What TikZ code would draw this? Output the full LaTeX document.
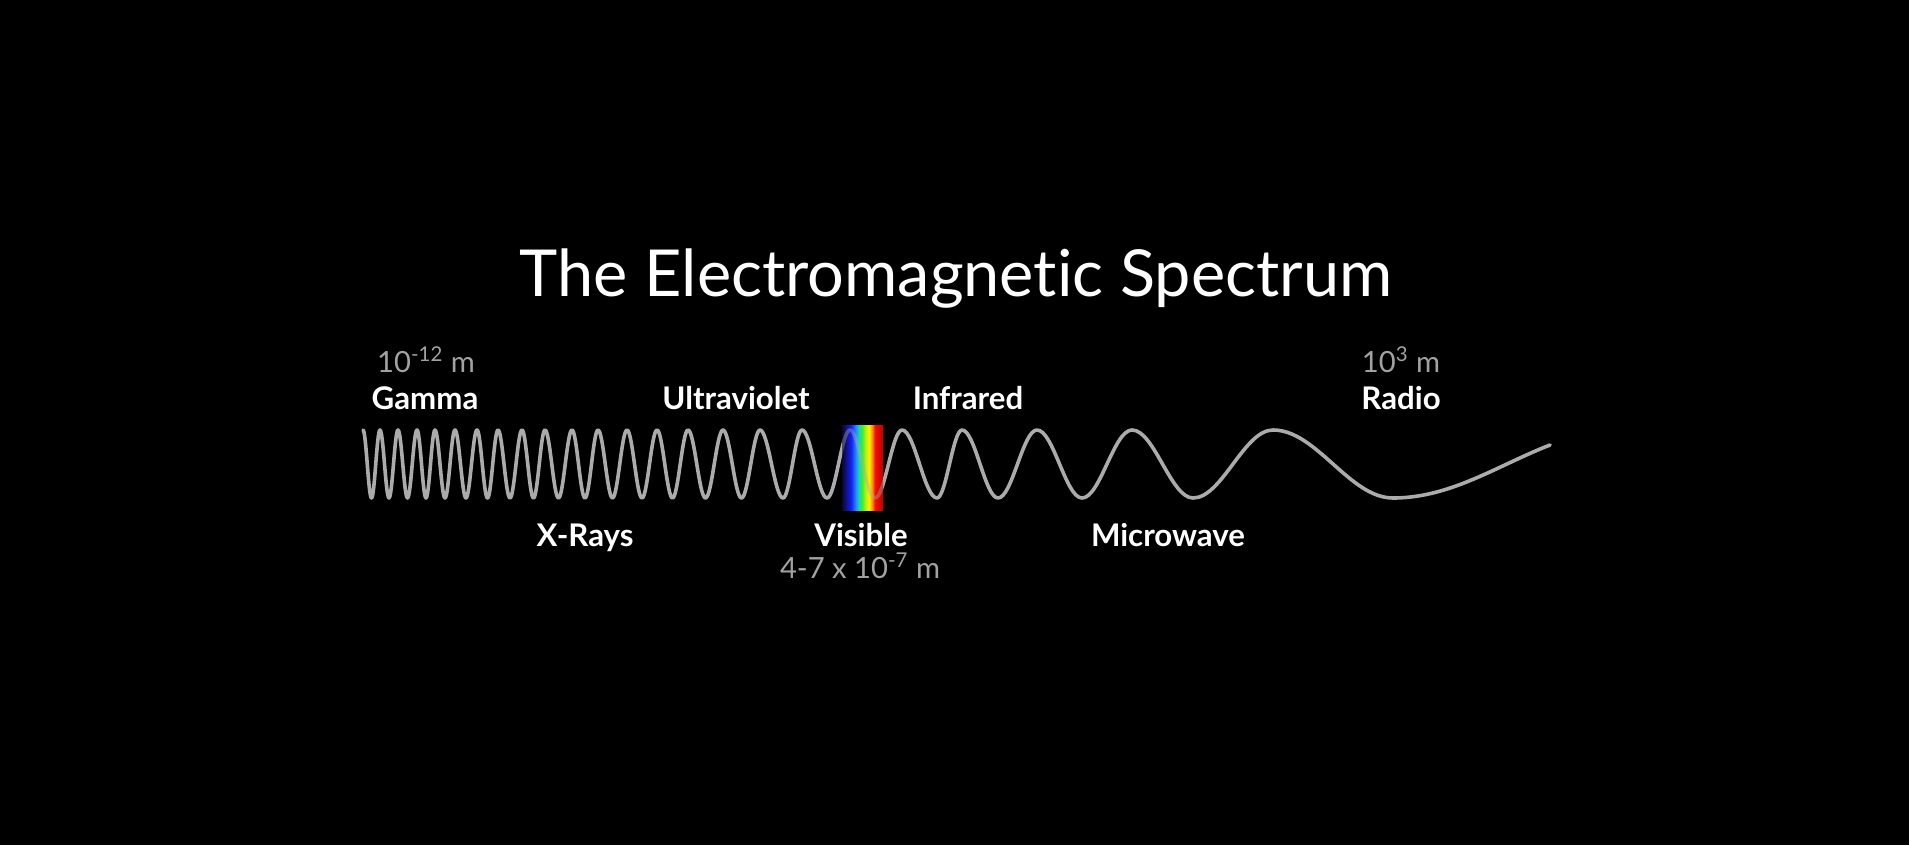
\documentclass[tikz,border=0pt]{standalone}
\usepackage{fontspec}
\setmainfont{Lato}[Ligatures=NoCommon]
\usepackage{xcolor}
\usepackage{tikz}

\definecolor{wavegray}{HTML}{ABABAB}
\definecolor{dimgray}{HTML}{A2A2A2}
\definecolor{vsNavy}{HTML}{12127E}
\definecolor{vsBlue}{HTML}{1020FF}
\definecolor{vsSky}{HTML}{2A8CFF}
\definecolor{vsTeal}{HTML}{10E0B0}
\definecolor{vsGreen}{HTML}{30F030}
\definecolor{vsLime}{HTML}{C0F010}
\definecolor{vsYellow}{HTML}{FFF000}
\definecolor{vsOrange}{HTML}{FF8C00}
\definecolor{vsRed}{HTML}{F01000}
\definecolor{vsDeep}{HTML}{C00000}

\pgfdeclarehorizontalshading{visspec}{100bp}{
  color(0bp)=(black); color(25bp)=(black!60!vsNavy);
  color(30bp)=(vsNavy); color(36bp)=(vsBlue); color(42bp)=(vsSky);
  color(46bp)=(vsTeal); color(49bp)=(vsGreen); color(54bp)=(vsLime);
  color(58bp)=(vsYellow); color(62bp)=(vsOrange); color(65bp)=(vsRed);
  color(75bp)=(vsDeep); color(100bp)=(vsDeep)}

\begin{document}
\begin{tikzpicture}[
    x=0.5pt, y=-0.5pt,
    band/.style={
        font=\fontsize{15.6}{18}\selectfont\bfseries,
        text=white,
        anchor=base,
        inner sep=0pt
    },
    dim/.style={
        font=\fontsize{14.6}{17}\selectfont,
        text=dimgray,
        anchor=base,
        inner sep=0pt
    },
    wave/.style={draw=wavegray, line width=1.8pt, line cap=round, line join=round}
]

% --- Background ---
\fill[black] (0,0) rectangle (1909,845);

% --- Title ---
\node[font=\fontsize{32.4}{38}\selectfont, text=white, anchor=base, inner sep=0pt] (title) at (956,296) {The Electromagnetic Spectrum};

% --- Upper labels ---
\node[dim] (gammalen) at (426,372) {10\textsuperscript{-12} m};
\node[band] (gamma) at (425,409) {Gamma};
\node[band] (uv) at (736,409) {Ultraviolet};
\node[band] (ir) at (968,409) {Infrared};
\node[dim] (radiolen) at (1401,372) {10\textsuperscript{3} m};
\node[band] (radio) at (1401,409) {Radio};

% --- Lower labels ---
\node[band] (xray) at (585,546) {X-Rays};
\node[band] (vis) at (861,546) {Visible};
\node[dim] (vislen) at (860,578) {4-7 x 10\textsuperscript{-7} m};
\node[band] (micro) at (1168,546) {Microwave};

% --- Visible band ---
\shade[shading=visspec] (842,425) rectangle (883,510);

% --- Wave (peaks and troughs) ---
\draw[wave] (363,430)
  \foreach \xe [count=\i, remember=\xe as \xo (initially 363)] in
    {371.5,380,389,398,407.5,417,426,435,445,455,466,477,487.5,498,510,522,
     533.5,545,558.5,572,585,598,612.5,627,642,657,672.5,688,705.5,723,
     741.5,760,783,802,827,850,875,902,937,962,998,1037,1082,1132,1193,1273,1393}
  { cos ({(\xo+\xe)/2},464) sin (\xe,{464-34*cos(180*\i)}) }
  cos (1507,464)
  plot[domain=0:34, samples=12] ({1507+114*\x/90},{464-34*sin(\x)});

% --- Spectrum over the wave ---
\shade[shading=visspec, opacity=0.6] (842,425) rectangle (883,510);

\end{tikzpicture}
\end{document}
